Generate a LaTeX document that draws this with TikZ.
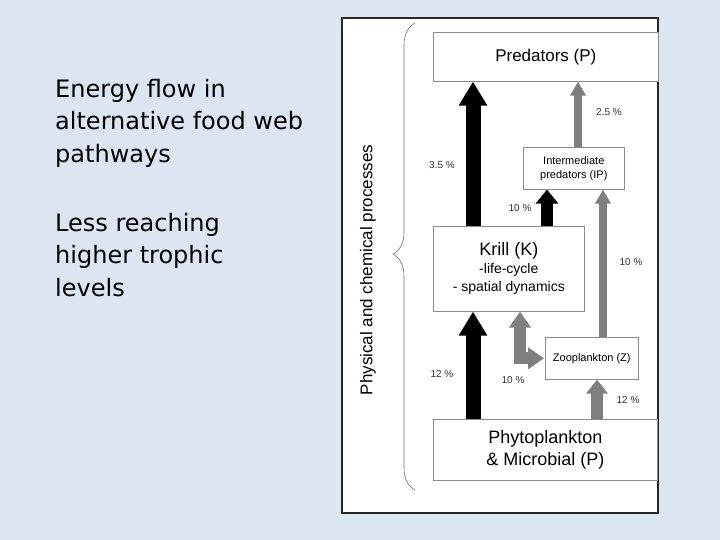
\documentclass[tikz,border=0pt]{standalone}
\usepackage{fontspec}
\setmainfont{Liberation Sans}
\newfontfamily\leftfont{DejaVu Sans}
\usetikzlibrary{arrows.meta,decorations.pathreplacing}
\definecolor{bg}{HTML}{DCE6F2}
\definecolor{ag}{HTML}{7F7F7F}
\tikzset{
  box/.style={draw=black!45,fill=white,line width=0.6pt,anchor=north west,inner sep=0pt},
  bigk/.style={line width=15pt,-{Triangle[width=27pt,length=24pt]}},
  midk/.style={line width=12pt,-{Triangle[width=22pt,length=14pt]}},
  thing/.style={ag,line width=8pt,-{Triangle[width=15pt,length=14pt]}},
  midg/.style={ag,line width=12pt,-{Triangle[width=21pt,length=14pt]}},
  pct/.style={font=\fontsize{10}{11}\selectfont,text=black!80},
  lt/.style={font=\leftfont\fontsize{24}{32.5}\selectfont,align=left,anchor=north west,inner sep=0pt}
}
\begin{document}
\begin{tikzpicture}[x=1pt,y=-1pt]
\fill[bg] (0,0) rectangle (720,540);
\draw[fill=white,draw=black!85,line width=2pt] (342,18) rectangle (658,513);
\node[lt] (t1) at (55,79) {Energy flow in\\alternative food web\\pathways};
\node[lt] (t2) at (55,213) {Less reaching\\higher trophic\\levels};
\node[box,minimum width=225pt,minimum height=49pt,font=\fontsize{17}{19}\selectfont] (P) at (433,32) {Predators (P)};
\node[box,minimum width=101pt,minimum height=42pt,align=center,font=\fontsize{11}{14}\selectfont] (IP) at (523,147) {Intermediate\\predators (IP)};
\node[box,minimum width=151pt,minimum height=85pt,align=center,font=\fontsize{14}{18}\selectfont] (K) at (433,226) {{\fontsize{18}{20}\selectfont Krill (K)}\\-life-cycle\\- spatial dynamics};
\node[box,minimum width=93pt,minimum height=42pt,font=\fontsize{11}{13}\selectfont] (Z) at (545,337) {Zooplankton (Z)};
\node[box,minimum width=224pt,minimum height=61pt,align=center,font=\fontsize{18}{22}\selectfont] (F) at (433,419) {Phytoplankton\\\& Microbial (P)};
% arrows
\draw[bigk] ([xshift=40pt]K.north west) -- ([xshift=40pt]P.south west);
\draw[bigk] ([xshift=40pt]F.north west) -- ([xshift=40pt]K.south west);
\draw[midk] ([xshift=114pt]K.north west) -- ([xshift=114pt]K.north west |- IP.south);
\draw[thing] ([xshift=55pt]IP.north west) -- ([xshift=55pt]IP.north west |- P.south);
\draw[thing] ([xshift=58pt]Z.north west) -- ([xshift=58pt]Z.north west |- IP.south);
\draw[midg] ([xshift=164pt]F.north west) -- ([xshift=164pt]F.north west |- Z.south);
\coordinate (c) at ([xshift=87pt]K.south west |- Z.west);
\draw[ag,line width=12pt,{Triangle[width=21pt,length=16pt]}-{Triangle[width=21pt,length=16pt]}] ([xshift=87pt]K.south west) -- (c) -- ([xshift=-1pt]Z.west);
% labels
\node[pct] (l1) at (442,165) {3.5 \%};
\node[pct] (l2) at (609,112) {2.5 \%};
\node[pct] (l3) at (520,208) {10 \%};
\node[pct] (l4) at (631,262) {10 \%};
\node[pct] (l5) at (442,374) {12 \%};
\node[pct] (l6) at (513,380) {10 \%};
\node[pct] (l7) at (628,400) {12 \%};
% brace
\coordinate (b1) at (415,490);
\coordinate (b2) at (415,23);
\draw[black!55,line width=0.6pt,decorate,decoration={brace,amplitude=22pt,aspect=0.505}] (b1) -- (b2);
\node[rotate=90,font=\fontsize{17}{19}\selectfont] (pc) at (368,270) {Physical and chemical processes};
\end{tikzpicture}
\end{document}
